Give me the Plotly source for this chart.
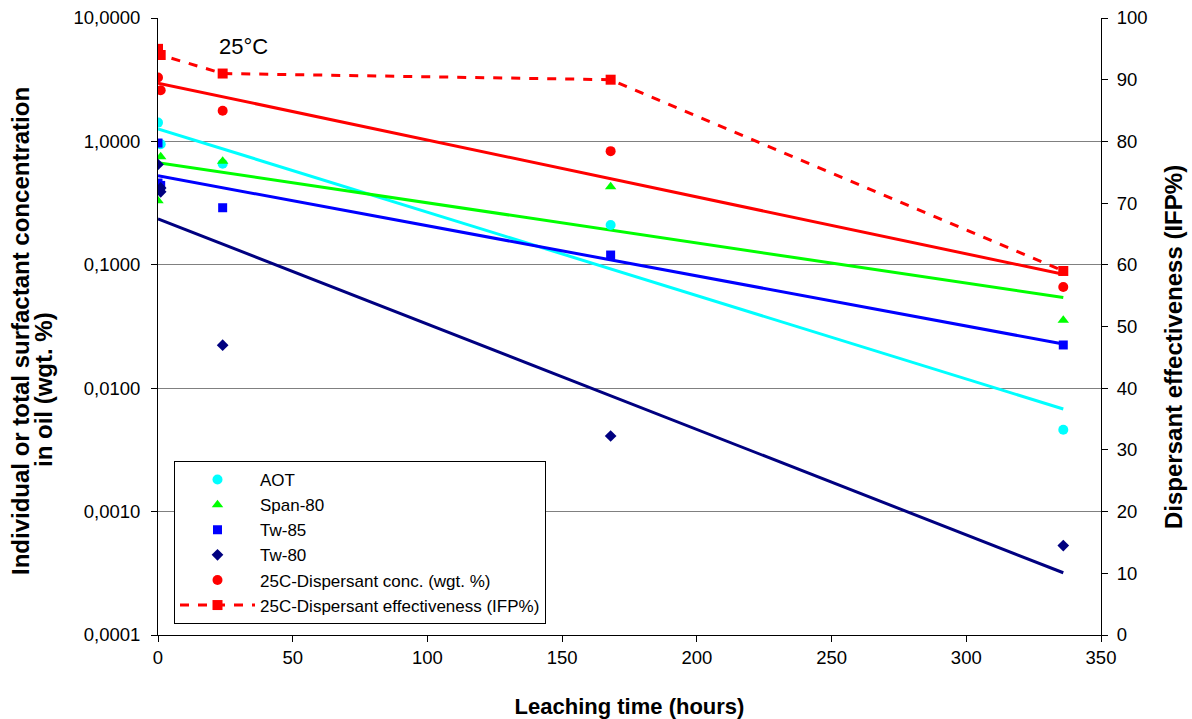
import numpy as np
import plotly.graph_objects as go

# ---- data ----
aot_x = [0, 1, 24, 168, 336]
aot_y = [1.42, 0.95, 0.66, 0.21, 0.0046]

span_x = [0, 1, 24, 168, 336]
span_y = [0.33, 0.75, 0.69, 0.43, 0.0356]

tw85_x = [0, 0, 1, 24, 168, 336]
tw85_y = [0.97, 0.46, 0.44, 0.29, 0.12, 0.0224]

tw80_x = [0, 1, 1, 24, 168, 336]
tw80_y = [0.65, 0.39, 0.42, 0.0223, 0.0041, 0.00053]

conc_x = [0, 1, 24, 168, 336]
conc_y = [3.3, 2.6, 1.77, 0.834, 0.066]

ifp_x = [0, 1, 24, 168, 336]
ifp_y = [95, 94, 91, 90, 59]

left_tickvals = [10, 1, 0.1, 0.01, 0.001, 0.0001]
left_ticktext = ["10,0000", "1,0000", "0,1000", "0,0100", "0,0010", "0,0001"]

FONT = "Liberation Sans, Arial, sans-serif"

W, H = 1192, 719
ML, MR, MT, MB = 158, 91, 18, 84
PW, PH = W - ML - MR, H - MT - MB


def px_to_paper_x(px):
    return (px - ML) / PW


def px_to_paper_y(py):
    return 1 - (py - MT) / PH


def exp_trend(xs, ys):
    xs = np.asarray(xs, float)
    ly = np.log10(np.asarray(ys, float))
    b, a = np.polyfit(xs, ly, 1)
    tx = np.array([xs.min(), xs.max()])
    return tx, 10 ** (a + b * tx)


fig = go.Figure()

series = [
    ("AOT", aot_x, aot_y, "#00FFFF", "circle", 10),
    ("Span-80", span_x, span_y, "#00FF00", "triangle-up", 10),
    ("Tw-85", tw85_x, tw85_y, "#0000FF", "square", 9),
    ("Tw-80", tw80_x, tw80_y, "#000080", "diamond", 9),
    ("25C-Dispersant conc. (wgt. %)", conc_x, conc_y, "#FF0000", "circle", 10),
]

# trend lines first (drawn beneath markers)
for name, xs, ys, col, sym, sz in series:
    tx, ty = exp_trend(xs, ys)
    fig.add_trace(go.Scatter(x=tx, y=ty, mode="lines", line=dict(color=col, width=3),
                             showlegend=False, hoverinfo="skip"))

for name, xs, ys, col, sym, sz in series:
    fig.add_trace(go.Scatter(x=xs, y=ys, mode="markers", name=name,
                             marker=dict(color=col, symbol=sym, size=sz)))

fig.add_trace(go.Scatter(x=ifp_x, y=ifp_y, mode="lines+markers", yaxis="y2",
                         name="25C-Dispersant effectiveness (IFP%)",
                         line=dict(color="#FF0000", width=3, dash="dash"),
                         marker=dict(color="#FF0000", symbol="square", size=10)))

# "25°C" label
fig.add_annotation(x=22, y=px_to_paper_y(47), xref="x", yref="paper",
                   yanchor="middle", xanchor="left", text="25°C", showarrow=False,
                   font=dict(size=22, color="black", family=FONT))

# Left axis title (two lines, placed as in the reference)
fig.add_annotation(x=px_to_paper_x(20), y=px_to_paper_y(331), xref="paper", yref="paper",
                   xanchor="center", yanchor="middle", textangle=-90, showarrow=False,
                   text="<b>Individual or total surfactant concentration</b>",
                   font=dict(size=24, color="black", family=FONT))
fig.add_annotation(x=px_to_paper_x(43), y=px_to_paper_y(390), xref="paper", yref="paper",
                   xanchor="center", yanchor="middle", textangle=-90, showarrow=False,
                   text="<b>in oil (wgt. %)</b>",
                   font=dict(size=24, color="black", family=FONT))
# Right axis title
fig.add_annotation(x=px_to_paper_x(1173), y=px_to_paper_y(347), xref="paper", yref="paper",
                   xanchor="center", yanchor="middle", textangle=-90, showarrow=False,
                   text="<b>Dispersant effectiveness (IFP%)</b>",
                   font=dict(size=24, color="black", family=FONT))

fig.update_layout(
    width=W, height=H,
    margin=dict(l=ML, r=MR, t=MT, b=MB),
    paper_bgcolor="white", plot_bgcolor="white",
    font=dict(family=FONT, size=18.5, color="black"),
    xaxis=dict(range=[0, 350], dtick=50, tick0=0, showgrid=False, zeroline=False,
               showline=True, linecolor="black", linewidth=1, automargin=False,
               ticks="outside", ticklen=6, tickcolor="black",
               title=dict(text="<b>Leaching time (hours)</b>", font=dict(size=22), standoff=31)),
    yaxis=dict(type="log", range=[-4, 1], tickvals=left_tickvals, ticktext=left_ticktext,
               showgrid=True, gridcolor="#808080", gridwidth=1, zeroline=False,
               showline=True, linecolor="black", linewidth=1, automargin=False,
               ticks="outside", ticklen=6, tickcolor="black", ticklabelstandoff=7),
    yaxis2=dict(overlaying="y", side="right", range=[0, 100], dtick=10, tick0=0,
                showgrid=False, zeroline=False, showline=True, linecolor="black", linewidth=1,
                automargin=False, ticks="outside", ticklen=6, tickcolor="black",
                ticklabelstandoff=5),
    legend=dict(x=px_to_paper_x(174), y=px_to_paper_y(461), xanchor="left", yanchor="top",
                bgcolor="white", bordercolor="black", borderwidth=1,
                font=dict(size=17), tracegroupgap=0, itemwidth=75),
    showlegend=True,
)

fig.write_html("out.html")
